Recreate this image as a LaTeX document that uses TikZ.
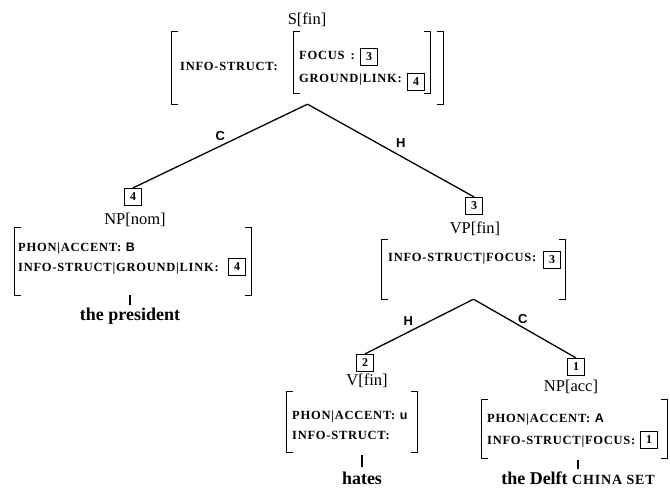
\documentclass[tikz,border=0pt]{standalone}
\usepackage{fontspec}
\setmainfont{Liberation Serif}
\setsansfont{Liberation Sans}
\newfontfamily\featfont[LetterSpace=6]{Liberation Serif}

\tikzset{
    cat/.style={inner sep=0pt, font=\fontsize{16.5}{18}\selectfont},
    tag/.style={draw, line width=1.2pt, minimum size=17pt, inner sep=0pt, font=\bfseries\fontsize{12}{12}\selectfont},
    fs/.style={anchor=base west, inner sep=0pt, font=\featfont\bfseries\fontsize{12.5}{14}\selectfont},
    avm/.style={inner sep=0pt},
    brk/.style={line width=1.3pt},
    branch/.style={line width=1.3pt},
    lbl/.style={inner sep=1pt, font=\sffamily\bfseries\fontsize{13}{13}\selectfont},
    word/.style={anchor=base, inner sep=0pt, font=\bfseries\fontsize{18}{20}\selectfont},
    tickline/.style={line width=1.1pt}
}

\begin{document}
\begin{tikzpicture}[x=1pt, y=-1pt]
    \useasboundingbox (0,0) rectangle (670,489);

    % S[fin]
    \node[cat] (s-cat) at (307,20) {S[fin]};
    \node[avm, minimum width=271pt, minimum height=72pt] (s-avm) at (307.5,68) {};
    \node[avm, minimum width=136pt, minimum height=61pt] (s-inner) at (362,62.5) {};
    \node[fs] (s-is) at (180,71) {INFO-STRUCT:};
    \node[fs] (s-foc) at (299,60) {FOCUS\hspace{6pt}:};
    \node[fs] (s-gl) at (299,83) {GROUND|LINK:};
    \node[tag] (s-t3) at (369,57) {3};
    \node[tag] (s-t4) at (416,82) {4};

    % NP[nom]
    \node[tag] (nom-tag) at (133,197) {4};
    \node[cat] (nom-cat) at (135,220) {NP[nom]};
    \node[avm, minimum width=236pt, minimum height=67pt] (nom-avm) at (133,261.5) {};
    \node[fs] (nom-acc) at (18,252) {PHON|ACCENT:\ \textsf{B}};
    \node[fs] (nom-is) at (18,272) {INFO-STRUCT|GROUND|LINK:};
    \node[tag] (nom-t4) at (237,267) {4};
    \node[word] (pres) at (130,321) {the president};

    % VP[fin]
    \node[tag] (vp-tag) at (474,206) {3};
    \node[cat] (vp-cat) at (475,229) {VP[fin]};
    \node[avm, minimum width=183pt, minimum height=59pt] (vp-avm) at (473.5,269.5) {};
    \node[fs] (vp-is) at (388,262) {INFO-STRUCT|FOCUS:};
    \node[tag] (vp-t3) at (552,260) {3};

    % V[fin]
    \node[tag] (v-tag) at (365,363) {2};
    \node[cat] (v-cat) at (367,381) {V[fin]};
    \node[avm, minimum width=130pt, minimum height=60pt] (v-avm) at (352,422) {};
    \node[fs] (v-acc) at (292,419) {PHON|ACCENT:\ \textsf{u}};
    \node[fs] (v-is) at (292,439) {INFO-STRUCT:};
    \node[word] (hates) at (362,484) {hates};

    % NP[acc]
    \node[tag] (acc-tag) at (576,367) {1};
    \node[cat] (acc-cat) at (571,387) {NP[acc]};
    \node[avm, minimum width=185pt, minimum height=58pt] (acc-avm) at (574.5,429) {};
    \node[fs] (acc-acc) at (487,422) {PHON|ACCENT:\ \textsf{A}};
    \node[fs] (acc-is) at (487,444) {INFO-STRUCT|FOCUS:};
    \node[tag] (acc-t1) at (649,440) {1};
    \node[word] (delft) at (578,484) {the Delft {\featfont\fontsize{14}{14}\selectfont CHINA SET}};

    % brackets
    \foreach \n in {s-avm,s-inner,nom-avm,vp-avm,v-avm,acc-avm} {
        \draw[brk] ([xshift=6pt]\n.north west) -- (\n.north west) -- (\n.south west) -- ([xshift=6pt]\n.south west);
        \draw[brk] ([xshift=-6pt]\n.north east) -- (\n.north east) -- (\n.south east) -- ([xshift=-6pt]\n.south east);
    }

    % branches
    \draw[branch] (s-avm.south) -- node[lbl, pos=.5, above=4pt] {C} (nom-tag.north);
    \draw[branch] (s-avm.south) -- node[lbl, pos=.56, above=6.5pt] {H} (vp-tag.north);
    \draw[branch] (vp-avm.south) -- node[lbl, pos=.6, above=4.5pt] {H} (v-tag.north);
    \draw[branch] (vp-avm.south) -- node[lbl, pos=.48, above=2pt] {C} (acc-tag.north);

    % lexical items
    \draw[tickline] ([yshift=3pt]pres.north) -- ++(0,-10);
    \draw[tickline] ([yshift=4pt]hates.north) -- ++(0,-12);
    \draw[tickline] ([yshift=2pt]delft.north) -- ++(0,-9);
\end{tikzpicture}
\end{document}
